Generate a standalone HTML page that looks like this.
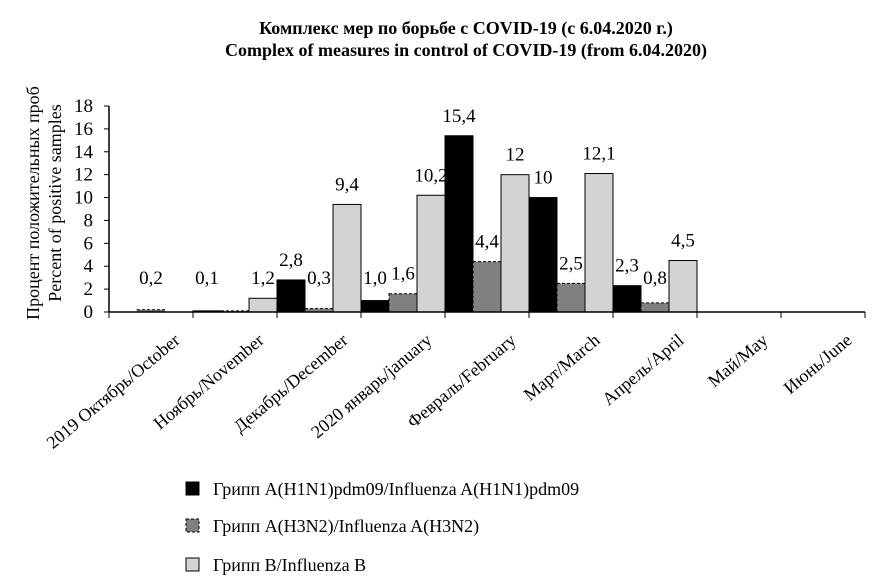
<!DOCTYPE html>
<html><head><meta charset="utf-8">
<style>
body{margin:0;background:#fff;}
svg text{font-family:"Liberation Serif","Noto Serif CJK SC",serif;fill:#000;}
</style></head>
<body>
<svg id="chart" width="892" height="580" xmlns="http://www.w3.org/2000/svg">
<text x="466" y="34" text-anchor="middle" font-size="18" font-weight="bold">Комплекс мер по борьбе с COVID-19 (с 6.04.2020 г.)</text>
<text x="466" y="56" text-anchor="middle" font-size="18" font-weight="bold">Complex of measures in control of COVID-19 (from 6.04.2020)</text>
<text transform="translate(39,203) rotate(-90)" text-anchor="middle" font-size="18">Процент положительных проб</text>
<text transform="translate(61,203) rotate(-90)" text-anchor="middle" font-size="18">Percent of positive samples</text>
<g id="plot"></g>
<g>
<rect x="186" y="482" width="13" height="13" fill="#000" stroke="#000"/>
<text x="213" y="495" font-size="18">Грипп A(H1N1)pdm09/Influenza A(H1N1)pdm09</text>
<rect x="186" y="519" width="13" height="13" fill="#808080" stroke="#000" stroke-dasharray="3,2"/>
<text x="213" y="532" font-size="18">Грипп A(H3N2)/Influenza A(H3N2)</text>
<rect x="186" y="558" width="13" height="13" fill="#d3d3d3" stroke="#000"/>
<text x="213" y="571" font-size="18">Грипп B/Influenza B</text>
</g>
</svg>
<script>
const categories=["2019 Октябрь/October","Ноябрь/November","Декабрь/December","2020 январь/january","Февраль/February","Март/March","Апрель/April","Май/May","Июнь/June"];
const h1n1=[0,0.1,2.8,1.0,15.4,10,2.3,0,0];
const h3n2=[0.2,0.1,0.3,1.6,4.4,2.5,0.8,0,0];
const fluB=[0,1.2,9.4,10.2,12,12.1,4.5,0,0];
const h1n1Labels=["","0,1","2,8","1,0","15,4","10","2,3","",""];
const h3n2Labels=["0,2","","0,3","1,6","4,4","2,5","0,8","",""];
const fluBLabels=["","1,2","9,4","10,2","12","12,1","4,5","",""];
const yTicks=[0,2,4,6,8,10,12,14,16,18];
const NS="http://www.w3.org/2000/svg";
const g=document.getElementById('plot');
const x0=109,cw=84,bw=28,yBase=312,yTop=106,yMax=18;
function yS(v){return yBase-(v/yMax)*(yBase-yTop);}
function xS(i,s){return x0+i*cw+s*bw;}
function mk(t,a){const e=document.createElementNS(NS,t);for(const k in a)e.setAttribute(k,a[k]);g.appendChild(e);return e;}
const series=[{d:h1n1,l:h1n1Labels,f:"#000",dash:null,n:"h1n1"},{d:h3n2,l:h3n2Labels,f:"#808080",dash:"3,2",n:"h3n2"},{d:fluB,l:fluBLabels,f:"#d3d3d3",dash:null,n:"flu-b"}];
series.forEach((s,si)=>{s.d.forEach((v,i)=>{
 if(v>0){const r=mk('rect',{x:xS(i,si),y:yS(v),width:bw,height:yBase-yS(v),fill:s.f,stroke:"#000","stroke-width":1});
 if(s.dash)r.setAttribute('stroke-dasharray',s.dash);
 
 }
 if(s.l[i]){const t=mk('text',{x:xS(i,si)+bw/2,y:Math.min(yS(v)-14,yBase-28),"text-anchor":"middle","font-size":"19"});t.textContent=s.l[i];
 
 }
});});
const ya=mk('line',{x1:x0,y1:yTop,x2:x0,y2:yBase,stroke:"#000","stroke-width":1.5});


yTicks.forEach(v=>{mk('line',{x1:x0-5,y1:yS(v),x2:x0,y2:yS(v),stroke:"#000"});
 const t=mk('text',{x:x0-16,y:yS(v)+6,"text-anchor":"end","font-size":"19"});t.textContent=v;
 
 });
const xa=mk('line',{x1:x0,y1:yBase,x2:x0+categories.length*cw,y2:yBase,stroke:"#000","stroke-width":1.5});


categories.forEach((c,i)=>{mk('line',{x1:x0+i*cw,y1:yBase,x2:x0+i*cw,y2:yBase+6,stroke:"#000"});
 const cx=x0+i*cw+cw/2+30,cy=yBase+30;
 const t=mk('text',{transform:`translate(${cx},${cy}) rotate(-40)`,"text-anchor":"end","font-size":"18"});t.textContent=c;
 
 });
mk('line',{x1:x0+categories.length*cw,y1:yBase,x2:x0+categories.length*cw,y2:yBase+6,stroke:"#000"});
</script>
</body></html>
